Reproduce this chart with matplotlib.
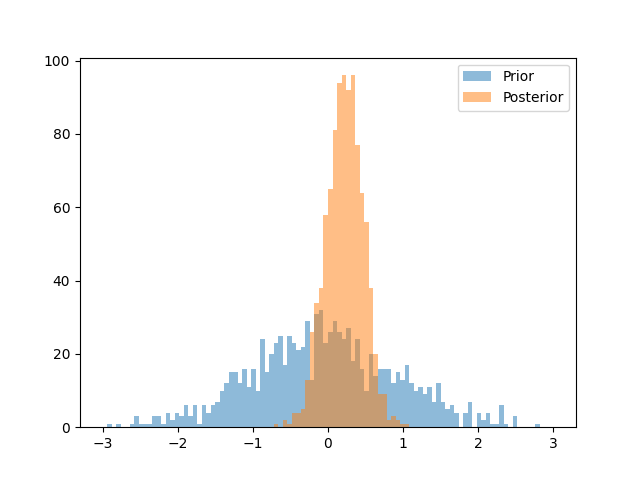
import numpy as np
import matplotlib
matplotlib.use("Agg")
import matplotlib.pyplot as plt

edges = np.linspace(-3, 3, 101)
prior_counts = [0, 1, 0, 1, 0, 0, 1, 3, 1, 1,
                1, 3, 3, 1, 4, 2, 4, 3, 6, 3,
                6, 1, 6, 4, 6, 7, 10, 12, 15, 15,
                12, 16, 11, 16, 10, 24, 15, 20, 23, 25,
                17, 25, 23, 21, 22, 29, 13, 31, 32, 23,
                26, 29, 26, 24, 27, 18, 24, 16, 10, 20,
                14, 16, 16, 16, 12, 15, 13, 17, 12, 10,
                11, 9, 11, 7, 12, 7, 5, 6, 4, 0,
                4, 7, 0, 4, 2, 4, 1, 1, 6, 1,
                0, 3, 0, 0, 0, 0, 1, 0, 0, 0]
posterior_counts = [0] * 100
posterior_vals = {38: 1, 40: 2, 41: 1, 42: 4, 43: 4, 44: 5, 45: 13, 46: 26,
                  47: 34, 48: 38, 49: 58, 50: 65, 51: 81, 52: 94, 53: 96,
                  54: 92, 55: 96, 56: 77, 57: 64, 58: 56, 59: 38, 60: 20,
                  61: 9, 62: 9, 63: 2, 64: 3, 65: 2, 66: 1, 67: 1}
for k, v in posterior_vals.items():
    posterior_counts[k] = v

centers = (edges[:-1] + edges[1:]) / 2

fig, ax = plt.subplots(figsize=(6.4, 4.8), dpi=100)
ax.hist(centers, bins=edges, weights=prior_counts, alpha=0.5, label="Prior")
ax.hist(centers, bins=edges, weights=posterior_counts, alpha=0.5, label="Posterior")
ax.legend(loc="upper right")
fig.savefig("out.png")
